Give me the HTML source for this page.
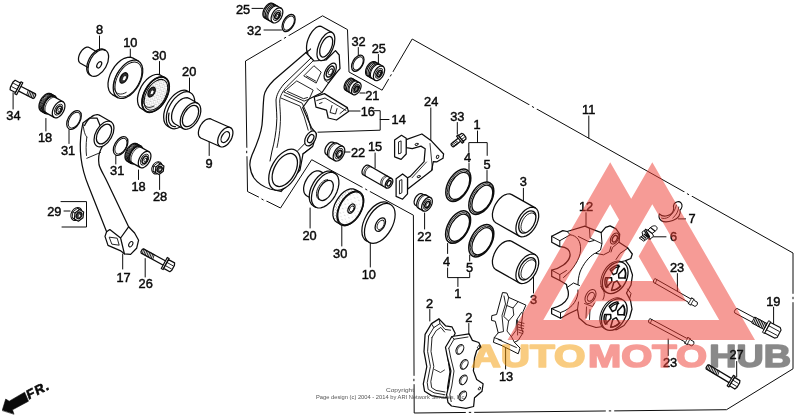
<!DOCTYPE html>
<html><head><meta charset="utf-8"><title>Front brake caliper</title>
<style>
html,body{margin:0;padding:0;background:#fff;}
body{width:800px;height:419px;overflow:hidden;font-family:"Liberation Sans",sans-serif;}
svg{display:block;}
svg text{font-family:"Liberation Sans",sans-serif;}
</style></head><body>
<svg width="800" height="419" viewBox="0 0 800 419">
<defs><pattern id="st" width="3" height="3" patternUnits="userSpaceOnUse"><rect width="3" height="3" fill="#fff"/><rect x="0.3" y="0.5" width="0.8" height="0.8" fill="#555"/><rect x="1.8" y="2" width="0.7" height="0.7" fill="#777"/></pattern><pattern id="st2" width="5" height="5" patternUnits="userSpaceOnUse"><rect width="5" height="5" fill="#fff"/><rect x="1" y="1.5" width="0.8" height="0.8" fill="#999"/><rect x="3.4" y="3.8" width="0.7" height="0.7" fill="#aaa"/></pattern></defs>
<rect width="800" height="419" fill="#fff"/>
<g style="filter:grayscale(1) blur(0.35px)" fill="none" stroke="#0c0c0c" stroke-width="1.25" stroke-linecap="round" stroke-linejoin="round">
<path d="M99.5 36L99.5 49" stroke-width="1.0"/>
<path d="M130.3 49L130.3 58" stroke-width="1.0"/>
<path d="M159.5 61.5L159.5 76.5" stroke-width="1.0"/>
<path d="M189.5 78L189.5 93" stroke-width="1.0"/>
<path d="M13.1 92.7L13.1 109" stroke-width="1.0"/>
<path d="M45.9 118.5L45.9 131" stroke-width="1.0"/>
<path d="M69 130L69 143.5" stroke-width="1.0"/>
<path d="M115.8 156L115.8 164" stroke-width="1.0"/>
<path d="M138.5 170L138.5 179.5" stroke-width="1.0"/>
<path d="M159.6 175L159.6 189.5" stroke-width="1.0"/>
<path d="M209.2 140L209.2 155.5" stroke-width="1.0"/>
<path d="M64 211L70 211" stroke-width="1.0"/>
<path d="M122.7 254L122.7 269" stroke-width="1.0"/>
<path d="M145.2 258.6L145.2 277" stroke-width="1.0"/>
<path d="M252 8.4L263 8.4" stroke-width="1.0"/>
<path d="M264 30L281.5 30" stroke-width="1.0"/>
<path d="M358.3 47.5L358.3 55" stroke-width="1.0"/>
<path d="M378.4 54.5L378.4 63" stroke-width="1.0"/>
<path d="M360 93L365 93" stroke-width="1.0"/>
<path d="M346 111L360 111" stroke-width="1.0"/>
<path d="M430.8 108L430.8 141" stroke-width="1.0"/>
<path d="M457.3 122.5L457.3 134" stroke-width="1.0"/>
<path d="M477.5 131L477.5 142.6" stroke-width="1.0"/>
<path d="M469 163.5L469 170.5" stroke-width="1.0"/>
<path d="M487 170.5L487 182" stroke-width="1.0"/>
<path d="M343 152L350 152" stroke-width="1.0"/>
<path d="M375.1 153L375.1 168" stroke-width="1.0"/>
<path d="M523.4 188.3L523.4 205" stroke-width="1.0"/>
<path d="M310.1 208L310.1 228" stroke-width="1.0"/>
<path d="M341.8 226L341.8 246" stroke-width="1.0"/>
<path d="M370.3 243L370.3 267" stroke-width="1.0"/>
<path d="M424.6 213L424.6 229" stroke-width="1.0"/>
<path d="M447.6 243.5L447.6 253.5" stroke-width="1.0"/>
<path d="M469.7 255L469.7 261" stroke-width="1.0"/>
<path d="M429.8 309.5L429.8 321" stroke-width="1.0"/>
<path d="M468.8 323.5L468.8 334.5" stroke-width="1.0"/>
<path d="M533.5 275.5L533.5 293" stroke-width="1.0"/>
<path d="M505.6 347.5L505.6 369" stroke-width="1.0"/>
<path d="M586 212.7L586 225.5" stroke-width="1.0"/>
<path d="M588.8 116L588.8 138.1" stroke-width="1.0"/>
<path d="M678.4 218.9L685.6 218.9" stroke-width="1.0"/>
<path d="M651 236.8L666 236.8" stroke-width="1.0"/>
<path d="M677.4 273.6L677.4 293" stroke-width="1.0"/>
<path d="M668.2 339L668.2 355.5" stroke-width="1.0"/>
<path d="M773.6 307.2L773.6 324.5" stroke-width="1.0"/>
<path d="M736.7 361.5L736.7 377" stroke-width="1.0"/>
<path d="M374.5 110.7H380.2V130.2L318 132.2 M380.2 119.5H389" stroke-width="1.0"/>
<path d="M468.8 152.2V142.6H487.2V155.4" stroke-width="1.0"/>
<path d="M447.6 268V277.6H469.7V272.7 M457.9 277.6V286.5" stroke-width="1.0"/>
<path d="M61 201.6H86.5V227H62" stroke-width="1.0"/>
<path d="M322.2 16L245.5 61L247.5 191.5L280.5 208L311.7 159.7L413.4 215.2L414.2 413L726.5 409.7L793 368.8V253L412.2 39L382.1 90.2L349 72L347.5 30Z" stroke-width="1.0"/>
<path d="M281.4 39.9L288.6 35.7" stroke-width="2.6" stroke="#fff" stroke-linecap="butt"/>
<path d="M284.3 38.2L285.7 37.4" stroke-width="1.0"/>
<path d="M246.6 147.8L246.8 156.2" stroke-width="2.6" stroke="#fff" stroke-linecap="butt"/>
<path d="M246.7 151.2L246.7 152.8" stroke-width="1.0"/>
<path d="M388.7 79L392.9 71.8" stroke-width="2.6" stroke="#fff" stroke-linecap="butt"/>
<path d="M390.4 76.1L391.2 74.7" stroke-width="1.0"/>
<path d="M529.3 104.9L536.7 109.1" stroke-width="2.6" stroke="#fff" stroke-linecap="butt"/>
<path d="M532.3 106.6L533.7 107.4" stroke-width="1.0"/>
<path d="M684.3 192.1L691.7 196.3" stroke-width="2.6" stroke="#fff" stroke-linecap="butt"/>
<path d="M687.3 193.8L688.7 194.6" stroke-width="1.0"/>
<path d="M793 293.8L793 302.2" stroke-width="2.6" stroke="#fff" stroke-linecap="butt"/>
<path d="M793 297.2L793 298.8" stroke-width="1.0"/>
<path d="M413.9 375.8L413.9 384.2" stroke-width="2.6" stroke="#fff" stroke-linecap="butt"/>
<path d="M413.9 379.2L413.9 380.8" stroke-width="1.0"/>
<path d="M605.8 410.9L614.2 410.9" stroke-width="2.6" stroke="#fff" stroke-linecap="butt"/>
<path d="M609.2 410.9L610.8 410.9" stroke-width="1.0"/>
<path d="M362.5 187.5L369.9 191.5" stroke-width="2.6" stroke="#fff" stroke-linecap="butt"/>
<path d="M365.5 189.1L366.9 189.9" stroke-width="1.0"/>
<path d="M465.8 412.4L474.2 412.4" stroke-width="2.6" stroke="#fff" stroke-linecap="butt"/>
<path d="M469.2 412.4L470.8 412.4" stroke-width="1.0"/>
<path d="M258.7 197.6L266.3 201.4" stroke-width="2.6" stroke="#fff" stroke-linecap="butt"/>
<path d="M261.8 199.1L263.2 199.9" stroke-width="1.0"/>
<path d="M80.4 63.2 L79.5 62.4 L78.8 61.3 L78.5 59.9 L78.5 58.2 L78.8 56.5 L79.4 54.6 L80.3 52.8 L81.4 51.1 L82.6 49.7 L84 48.5 L85.4 47.6 L86.8 47.2 L88.1 47.2 L89.2 47.5 L101 54.2 L101.9 55 L102.5 56.1 L102.9 57.5 L102.9 59.1 L102.6 60.9 L102 62.8 L101.1 64.6 L100 66.3 L98.7 67.7 L97.3 68.9 L95.9 69.7 L94.5 70.2 L93.2 70.2 L92.1 69.8Z" fill="#fff"/>
<ellipse cx="98.3" cy="63" rx="14.6" ry="8.5" transform="rotate(-60.5 98.3 63)" fill="#fff"/>
<path d="M91.1 75.5 L89.4 74.7 L88.1 73.4 L87.2 71.5 L86.7 69.3 L86.8 66.6 L87.3 63.8 L88.3 61 L89.6 58.1 L91.3 55.5 L93.3 53.2 L95.5 51.3 L97.7 49.9 L99.9 49.1 L101.9 48.9 L103.7 49.4 L105.3 50.4"/>
<ellipse cx="99.2" cy="64.8" rx="3.5" ry="2" transform="rotate(-60.5 99.2 64.8)" stroke-width="1.2"/>
<path d="M112.4 94.6 L110.3 92.8 L108.9 90.2 L108.1 86.9 L108 83.1 L108.7 78.9 L110.1 74.6 L112.2 70.3 L114.7 66.4 L117.7 63 L120.9 60.3 L124.3 58.3 L127.5 57.3 L130.5 57.2 L133.1 58.1 L138.3 61 L140.4 62.8 L141.9 65.4 L142.7 68.7 L142.7 72.6 L142 76.8 L140.6 81.1 L138.6 85.3 L136 89.2 L133.1 92.6 L129.8 95.4 L126.5 97.3 L123.3 98.4 L120.3 98.5 L117.7 97.6Z" fill="#fff"/>
<path d="M117.7 97.6 L115.8 96.1 L114.4 93.9 L113.5 91.2 L113.2 88 L113.4 84.5 L114.2 80.8 L115.6 77 L117.4 73.3 L119.6 69.9 L122.2 66.8 L124.9 64.2 L127.8 62.1 L130.7 60.8 L133.5 60.1 L136.1 60.2 L138.3 61"/>
<ellipse cx="128.4" cy="79.5" rx="19" ry="11" transform="rotate(-60.5 128.4 79.5)" stroke-width="0.9"/>
<path d="M126.2 92.4 L124.3 93.3 L122.4 93.9 L120.6 94.1 L119 93.9 L117.5 93.3 L116.3 92.3 L115.3 91 L114.5 89.4 L114 87.5 L113.9 85.4 L114 83.1 L114.4 80.7 L115.1 78.3 L116.1 75.8 L117.3 73.4 L118.7 71.1" stroke-width="0.9"/>
<ellipse cx="123.8" cy="77.9" rx="5.6" ry="3.2" transform="rotate(-60.5 123.8 77.9)" fill="#333" stroke-width="1.4"/>
<ellipse cx="124.5" cy="78.2" rx="3" ry="1.7" transform="rotate(-60.5 124.5 78.2)" fill="#fff" stroke-width="0.7"/>
<path d="M141.6 108.8 L139.6 107.2 L138.3 104.8 L137.6 101.7 L137.5 98.2 L138.2 94.4 L139.5 90.4 L141.3 86.5 L143.7 82.9 L146.4 79.8 L149.4 77.3 L152.4 75.5 L155.4 74.5 L158.2 74.4 L160.6 75.2 L165.1 77.8 L167 79.4 L168.4 81.9 L169.1 84.9 L169.1 88.4 L168.5 92.3 L167.2 96.2 L165.3 100.1 L163 103.7 L160.3 106.9 L157.3 109.4 L154.2 111.2 L151.3 112.1 L148.5 112.2 L146.1 111.4Z" fill="#fff"/>
<path d="M146.1 111.4 L144.4 110 L143.1 108 L142.3 105.5 L142 102.6 L142.2 99.3 L143 95.9 L144.2 92.5 L145.9 89.1 L147.9 85.9 L150.2 83.1 L152.8 80.7 L155.4 78.8 L158.1 77.6 L160.7 77 L163 77 L165.1 77.8"/>
<ellipse cx="155.6" cy="94.6" rx="19.3" ry="11.2" transform="rotate(-60.5 155.6 94.6)" stroke-width="1.7"/>
<ellipse cx="155.9" cy="94.8" rx="16.8" ry="9.7" transform="rotate(-60.5 155.9 94.8)" fill="url(#st)" stroke-width="1.0"/>
<path d="M153.9 106 L152.2 106.8 L150.5 107.3 L148.8 107.4 L147.4 107.2 L146.1 106.5 L145 105.5 L144.1 104.2 L143.5 102.6 L143.3 100.7 L143.3 98.7 L143.6 96.5 L144.1 94.2 L145 91.9 L146.1 89.7 L147.4 87.5 L148.9 85.6" stroke-width="0.9"/>
<ellipse cx="151.6" cy="92" rx="5.2" ry="3" transform="rotate(-60.5 151.6 92)" fill="#333" stroke-width="1.4"/>
<ellipse cx="152.2" cy="92.3" rx="2.7" ry="1.6" transform="rotate(-60.5 152.2 92.3)" fill="#fff" stroke-width="0.7"/>
<ellipse cx="177.9" cy="108.8" rx="20.2" ry="11.7" transform="rotate(-60.5 177.9 108.8)" fill="#fff"/>
<ellipse cx="180.5" cy="110.3" rx="20.2" ry="11.7" transform="rotate(-60.5 180.5 110.3)" fill="#fff"/>
<path d="M174.6 123.7 L173.2 122.5 L172.1 120.7 L171.6 118.4 L171.6 115.7 L172 112.8 L173 109.8 L174.4 106.9 L176.2 104.1 L178.3 101.8 L180.5 99.9 L182.8 98.5 L185.1 97.8 L187.2 97.7 L189 98.3 L197.7 103.3 L199.2 104.5 L200.2 106.3 L200.7 108.6 L200.8 111.3 L200.3 114.2 L199.3 117.2 L197.9 120.1 L196.1 122.9 L194 125.2 L191.8 127.1 L189.5 128.5 L187.2 129.2 L185.1 129.3 L183.3 128.7Z" fill="#fff"/>
<path d="M183.3 128.7 L182 127.6 L181 126.1 L180.4 124.2 L180.2 122 L180.4 119.6 L180.9 117 L181.9 114.4 L183.1 111.8 L184.7 109.4 L186.5 107.2 L188.4 105.4 L190.4 104 L192.4 103.1 L194.3 102.6 L196.1 102.7 L197.7 103.3"/>
<ellipse cx="190.5" cy="116" rx="11.6" ry="6.7" transform="rotate(-60.5 190.5 116)"/>
<path d="M175.4 126.7 L174.4 126.7 L173.5 126.5 L172.7 126.1 L171.9 125.7 L171.2 125.2 L170.5 124.5 L170 123.7 L169.5 122.8 L169.1 121.9 L168.8 120.8 L168.6 119.6 L168.5 118.4 L168.5 117.2 L168.6 115.8 L168.8 114.5 L169 113.1"/>
<path d="M200.7 138 L199.6 137.1 L198.8 135.7 L198.4 134 L198.4 132 L198.8 129.9 L199.5 127.7 L200.5 125.5 L201.9 123.5 L203.4 121.7 L205.1 120.3 L206.8 119.3 L208.4 118.8 L210 118.7 L211.3 119.2 L230.6 127.7 L231.7 128.6 L232.5 130 L232.9 131.7 L232.9 133.7 L232.5 135.8 L231.8 138 L230.8 140.2 L229.4 142.2 L227.9 144 L226.2 145.4 L224.5 146.4 L222.9 146.9 L221.3 147 L220 146.5Z" fill="#fff"/>
<path d="M220 146.5 L219 145.7 L218.3 144.6 L217.8 143.2 L217.7 141.6 L217.8 139.8 L218.2 137.8 L218.9 135.9 L219.8 134 L221 132.2 L222.3 130.7 L223.7 129.3 L225.2 128.3 L226.7 127.6 L228.1 127.2 L229.5 127.3 L230.6 127.7"/>
<ellipse cx="225.3" cy="137.1" rx="6" ry="3.5" transform="rotate(-60.5 225.3 137.1)"/>
<path d="M17.8 90.6 L33.1 98.5 L34.3 98 L35.7 95.2 L35.5 93.9 L20.2 86" fill="#fff"/>
<path d="M32.7 98.4 L34.3 93.3" stroke-width="0.9"/>
<path d="M31.2 97.6 L32.8 92.5" stroke-width="0.9"/>
<path d="M29.7 96.8 L31.3 91.8" stroke-width="0.9"/>
<path d="M28.2 96 L29.8 91" stroke-width="0.9"/>
<path d="M26.7 95.2 L28.3 90.2" stroke-width="0.9"/>
<path d="M16.6 94.7 L14.8 93.7 L21 81.8 L22.8 82.7Z" fill="#fff"/>
<path d="M15.4 92.5 L10.1 89.8 L10.4 87.2 L13.1 81.9 L15.1 80.2 L20.4 83Z" fill="#fff"/>
<path d="M17.1 89.4 L11.7 86.7" stroke-width="0.9"/>
<path d="M18.8 86.1 L13.5 83.3" stroke-width="0.9"/>
<path d="M41.1 111.2 L40.1 110.3 L39.4 109.1 L39 107.5 L39 105.7 L39.3 103.7 L40 101.6 L40.9 99.6 L42.2 97.7 L43.6 96.1 L45.1 94.8 L46.7 93.9 L48.2 93.4 L49.7 93.3 L50.9 93.8 L54.9 96 L55.9 96.9 L56.6 98.1 L57 99.7 L57 101.5 L56.7 103.5 L56 105.6 L55 107.6 L53.8 109.4 L52.4 111.1 L50.9 112.4 L49.3 113.3 L47.7 113.8 L46.3 113.8 L45.1 113.4Z" fill="#fff"/>
<path d="M45.1 113.4 L44.2 112.7 L43.5 111.7 L43.1 110.4 L42.9 108.9 L43.1 107.2 L43.4 105.4 L44.1 103.6 L44.9 101.9 L46 100.2 L47.2 98.8 L48.5 97.5 L49.9 96.6 L51.3 95.9 L52.6 95.6 L53.8 95.6 L54.9 96"/>
<path d="M41.8 111.6 L40.9 110.9 L40.3 109.9 L39.9 108.6 L39.7 107 L39.8 105.4 L40.2 103.6 L40.9 101.8 L41.7 100 L42.8 98.4 L44 96.9 L45.3 95.7 L46.7 94.7 L48.1 94.1 L49.4 93.8 L50.6 93.8 L51.7 94.2" stroke-width="1.0"/>
<path d="M42.7 112.1 L41.8 111.4 L41.2 110.3 L40.7 109 L40.6 107.5 L40.7 105.9 L41.1 104.1 L41.7 102.3 L42.6 100.5 L43.6 98.9 L44.9 97.4 L46.2 96.2 L47.5 95.2 L48.9 94.6 L50.3 94.3 L51.5 94.3 L52.6 94.7" stroke-width="1.0"/>
<path d="M43.6 112.6 L42.7 111.9 L42 110.8 L41.6 109.5 L41.5 108 L41.6 106.3 L42 104.6 L42.6 102.8 L43.5 101 L44.5 99.4 L45.7 97.9 L47 96.7 L48.4 95.7 L49.8 95.1 L51.1 94.8 L52.3 94.8 L53.4 95.2" stroke-width="1.0"/>
<path d="M44.4 113.1 L43.6 112.4 L42.9 111.3 L42.5 110 L42.3 108.5 L42.4 106.8 L42.8 105.1 L43.5 103.3 L44.3 101.5 L45.4 99.9 L46.6 98.4 L47.9 97.2 L49.3 96.2 L50.7 95.6 L52 95.2 L53.2 95.3 L54.3 95.7" stroke-width="1.0"/>
<path d="M45.6 112.6 L44.7 111.8 L44 110.7 L43.7 109.2 L43.7 107.6 L44 105.8 L44.6 104 L45.4 102.2 L46.5 100.5 L47.8 99 L49.2 97.8 L50.6 97 L52 96.6 L53.3 96.5 L54.4 96.9 L63 101.8 L63.9 102.5 L64.6 103.7 L64.9 105.1 L64.9 106.7 L64.6 108.5 L64 110.4 L63.1 112.2 L62 113.8 L60.8 115.3 L59.4 116.5 L58 117.3 L56.6 117.8 L55.3 117.8 L54.2 117.4Z" fill="#fff"/>
<path d="M54.2 117.4 L53.4 116.8 L52.8 115.9 L52.4 114.7 L52.3 113.3 L52.4 111.8 L52.7 110.2 L53.3 108.6 L54.1 107 L55 105.6 L56.1 104.2 L57.3 103.1 L58.5 102.2 L59.8 101.7 L61 101.4 L62.1 101.4 L63 101.8"/>
<path d="M46.9 113.3 L46.1 112.7 L45.5 111.8 L45.2 110.6 L45 109.2 L45.1 107.7 L45.5 106.1 L46.1 104.5 L46.8 102.9 L47.8 101.5 L48.9 100.1 L50.1 99 L51.3 98.2 L52.5 97.6 L53.7 97.3 L54.8 97.3 L55.8 97.7" stroke-width="0.8"/>
<ellipse cx="58.6" cy="109.6" rx="5.9" ry="3.4" transform="rotate(-60.5 58.6 109.6)" stroke-width="0.9"/>
<ellipse cx="59" cy="109.8" rx="4" ry="2.3" transform="rotate(-60.5 59 109.8)" fill="#fff" stroke-width="1.5"/>
<ellipse cx="59.3" cy="109.9" rx="2" ry="1.1" transform="rotate(-60.5 59.3 109.9)" stroke-width="0.8"/>
<path d="M127.1 161.2 L126.1 160.3 L125.4 159.1 L125 157.5 L125 155.7 L125.3 153.7 L126 151.6 L126.9 149.6 L128.2 147.7 L129.6 146.1 L131.1 144.8 L132.7 143.9 L134.2 143.4 L135.7 143.3 L136.9 143.8 L140.9 146 L141.9 146.9 L142.6 148.1 L143 149.7 L143 151.5 L142.7 153.5 L142 155.6 L141 157.6 L139.8 159.4 L138.4 161.1 L136.9 162.4 L135.3 163.3 L133.7 163.8 L132.3 163.8 L131.1 163.4Z" fill="#fff"/>
<path d="M131.1 163.4 L130.2 162.7 L129.5 161.7 L129.1 160.4 L128.9 158.9 L129.1 157.2 L129.4 155.4 L130.1 153.6 L130.9 151.9 L132 150.2 L133.2 148.8 L134.5 147.5 L135.9 146.6 L137.3 145.9 L138.6 145.6 L139.8 145.6 L140.9 146"/>
<path d="M127.8 161.6 L126.9 160.9 L126.3 159.9 L125.9 158.6 L125.7 157 L125.8 155.4 L126.2 153.6 L126.9 151.8 L127.7 150 L128.8 148.4 L130 146.9 L131.3 145.7 L132.7 144.7 L134.1 144.1 L135.4 143.8 L136.6 143.8 L137.7 144.2" stroke-width="1.0"/>
<path d="M128.7 162.1 L127.8 161.4 L127.2 160.3 L126.7 159 L126.6 157.5 L126.7 155.9 L127.1 154.1 L127.7 152.3 L128.6 150.5 L129.6 148.9 L130.9 147.4 L132.2 146.2 L133.5 145.2 L134.9 144.6 L136.3 144.3 L137.5 144.3 L138.6 144.7" stroke-width="1.0"/>
<path d="M129.6 162.6 L128.7 161.9 L128 160.8 L127.6 159.5 L127.5 158 L127.6 156.3 L128 154.6 L128.6 152.8 L129.5 151 L130.5 149.4 L131.7 147.9 L133 146.7 L134.4 145.7 L135.8 145.1 L137.1 144.8 L138.3 144.8 L139.4 145.2" stroke-width="1.0"/>
<path d="M130.4 163.1 L129.6 162.4 L128.9 161.3 L128.5 160 L128.3 158.5 L128.4 156.8 L128.8 155.1 L129.5 153.3 L130.3 151.5 L131.4 149.9 L132.6 148.4 L133.9 147.2 L135.3 146.2 L136.7 145.6 L138 145.2 L139.2 145.3 L140.3 145.7" stroke-width="1.0"/>
<path d="M131.6 162.6 L130.7 161.8 L130 160.7 L129.7 159.2 L129.7 157.6 L130 155.8 L130.6 154 L131.4 152.2 L132.5 150.5 L133.8 149 L135.2 147.8 L136.6 147 L138 146.6 L139.3 146.5 L140.4 146.9 L149 151.8 L149.9 152.5 L150.6 153.7 L150.9 155.1 L150.9 156.7 L150.6 158.5 L150 160.4 L149.1 162.2 L148 163.8 L146.8 165.3 L145.4 166.5 L144 167.3 L142.6 167.8 L141.3 167.8 L140.2 167.4Z" fill="#fff"/>
<path d="M140.2 167.4 L139.4 166.8 L138.8 165.9 L138.4 164.7 L138.3 163.3 L138.4 161.8 L138.7 160.2 L139.3 158.6 L140.1 157 L141 155.6 L142.1 154.2 L143.3 153.1 L144.5 152.2 L145.8 151.7 L147 151.4 L148.1 151.4 L149 151.8"/>
<path d="M132.9 163.3 L132.1 162.7 L131.5 161.8 L131.2 160.6 L131 159.2 L131.1 157.7 L131.5 156.1 L132.1 154.5 L132.8 152.9 L133.8 151.5 L134.9 150.1 L136.1 149 L137.3 148.2 L138.5 147.6 L139.7 147.3 L140.8 147.3 L141.8 147.7" stroke-width="0.8"/>
<ellipse cx="144.6" cy="159.6" rx="5.9" ry="3.4" transform="rotate(-60.5 144.6 159.6)" stroke-width="0.9"/>
<ellipse cx="145" cy="159.8" rx="4" ry="2.3" transform="rotate(-60.5 145 159.8)" fill="#fff" stroke-width="1.5"/>
<ellipse cx="145.3" cy="159.9" rx="2" ry="1.1" transform="rotate(-60.5 145.3 159.9)" stroke-width="0.8"/>
<ellipse cx="74" cy="120" rx="10.3" ry="6" transform="rotate(-60.5 74 120)" fill="#fff" stroke-width="1.3"/>
<ellipse cx="74.3" cy="120.2" rx="8.6" ry="5" transform="rotate(-60.5 74.3 120.2)" stroke-width="0.9"/>
<ellipse cx="120.6" cy="146" rx="10.3" ry="6" transform="rotate(-60.5 120.6 146)" fill="#fff" stroke-width="1.3"/>
<ellipse cx="120.9" cy="146.2" rx="8.6" ry="5" transform="rotate(-60.5 120.9 146.2)" stroke-width="0.9"/>
<ellipse cx="157" cy="167.8" rx="6.5" ry="4.8" transform="rotate(-60.5 157 167.8)" fill="#fff" stroke-width="1.0"/>
<path d="M161.7 164.7 L161.1 170.1 L156.8 173.4 L153.1 171.3 L153.7 165.9 L158 162.6Z" fill="#fff" stroke-width="0.9"/>
<path d="M163.9 165.9 L163.3 171.3 L159 174.6 L155.3 172.5 L155.9 167.1 L160.2 163.8Z" fill="#fff" stroke-width="1.2"/>
<path d="M153.1 171.3 L155.3 172.5" stroke-width="0.9"/>
<path d="M153.7 165.9 L155.9 167.1" stroke-width="0.9"/>
<path d="M158 162.6 L160.2 163.8" stroke-width="0.9"/>
<ellipse cx="159.6" cy="169.2" rx="3.2" ry="2.4" transform="rotate(-60.5 159.6 169.2)" fill="#444" stroke-width="1.2"/>
<ellipse cx="160.1" cy="169.5" rx="1.6" ry="1.2" transform="rotate(-60.5 160.1 169.5)" fill="#fff" stroke-width="0.6"/>
<ellipse cx="76.4" cy="214" rx="6.9" ry="5.1" transform="rotate(-60.5 76.4 214)" fill="#fff" stroke-width="1.0"/>
<path d="M81.4 210.7 L80.8 216.5 L76.2 220 L72.2 217.7 L72.8 211.9 L77.4 208.4Z" fill="#fff" stroke-width="0.9"/>
<path d="M83.6 211.9 L83 217.7 L78.4 221.2 L74.4 218.9 L75 213.1 L79.6 209.6Z" fill="#fff" stroke-width="1.2"/>
<path d="M72.2 217.7 L74.4 218.9" stroke-width="0.9"/>
<path d="M72.8 211.9 L75 213.1" stroke-width="0.9"/>
<path d="M77.4 208.4 L79.6 209.6" stroke-width="0.9"/>
<ellipse cx="79" cy="215.4" rx="3.5" ry="2.6" transform="rotate(-60.5 79 215.4)" fill="#444" stroke-width="1.2"/>
<ellipse cx="79.5" cy="215.7" rx="1.7" ry="1.2" transform="rotate(-60.5 79.5 215.7)" fill="#fff" stroke-width="0.6"/>
<path d="M81.5 130.5C80 140 80 150 81 158C82.5 170 86 180 88.5 186L106.6 231.8L105 236.4L108 245.4L120.2 250.6L124.4 253.8L130.6 254.4L136.6 248.3L138.6 240.2L134.6 233L128.6 226.8L107.5 182.5C104 175 100 169 99 164.5C98 158.5 99 153 101 149L106 140L97 118L89.6 118L82.9 123Z" fill="#fff"/>
<path d="M86.8 137C85.8 145 86 151 86.5 155.5 M86.8 158.3L100.5 152.5 M83 124C84 132 85 135 86.8 137" stroke-width="0.9"/>
<path d="M106.6 231.8L109.8 229.6L120.6 238L128.6 226.8 M120.6 238L124.4 253.8"/>
<path d="M109.6 237.2L117.2 238.2L119.2 245.2L112.2 244.2Z" stroke-width="0.9"/>
<ellipse cx="130.8" cy="244.2" rx="2.9" ry="1.8" transform="rotate(-60.5 130.8 244.2)" stroke-width="1.0"/>
<path d="M84.6 125.5 L85.2 124.2 L86 122.9 L86.8 121.6 L87.7 120.4 L88.7 119.3 L89.7 118.3 L90.7 117.4 L91.8 116.6 L92.9 115.9 L93.9 115.4 L95 115 L96 114.8 L97 114.7 L97.9 114.7 L98.8 115 L99.6 115.3"/>
<path d="M99.6 115.3 L110.9 121.7"/>
<ellipse cx="104" cy="134" rx="14.1" ry="8.2" transform="rotate(-60.5 104 134)" fill="#fff"/>
<ellipse cx="104" cy="134" rx="10.8" ry="6.3" transform="rotate(-60.5 104 134)"/>
<path d="M166.2 261.3 L143.5 248.9 L142.3 249.3 L140.9 251.9 L141.2 253.1 L163.8 265.5" fill="#fff"/>
<path d="M143.8 249.1 L142.3 253.7" stroke-width="0.9"/>
<path d="M145.3 249.9 L143.8 254.5" stroke-width="0.9"/>
<path d="M146.8 250.7 L145.3 255.3" stroke-width="0.9"/>
<path d="M148.3 251.5 L146.8 256.2" stroke-width="0.9"/>
<path d="M149.8 252.3 L148.3 257" stroke-width="0.9"/>
<path d="M151.3 253.1 L149.7 257.8" stroke-width="0.9"/>
<path d="M152.8 254 L151.2 258.6" stroke-width="0.9"/>
<path d="M154.2 254.8 L152.7 259.4" stroke-width="0.9"/>
<path d="M167.3 257.5 L169.1 258.5 L163.1 269.5 L161.3 268.5Z" fill="#fff"/>
<path d="M168.5 259.6 L174.6 262.9 L174.4 265.4 L171.8 270.2 L169.8 271.7 L163.7 268.4Z" fill="#fff"/>
<path d="M166.9 262.4 L173 265.8" stroke-width="0.9"/>
<path d="M165.2 265.5 L171.4 268.9" stroke-width="0.9"/>
<path d="M264.6 17.9 L263.8 17.2 L263.2 16.2 L262.9 14.9 L262.9 13.4 L263.2 11.7 L263.7 10 L264.5 8.4 L265.6 6.8 L266.7 5.5 L268 4.4 L269.3 3.6 L270.6 3.2 L271.8 3.2 L272.8 3.5 L281.1 8.2 L281.9 8.9 L282.5 9.9 L282.8 11.2 L282.8 12.7 L282.5 14.4 L282 16.1 L281.2 17.8 L280.2 19.3 L279 20.7 L277.7 21.8 L276.4 22.5 L275.1 22.9 L273.9 23 L272.9 22.6Z" fill="#fff"/>
<path d="M272.9 22.6 L272.2 22 L271.6 21.2 L271.3 20.1 L271.1 18.8 L271.2 17.4 L271.6 16 L272.1 14.5 L272.8 13 L273.7 11.7 L274.7 10.4 L275.8 9.4 L276.9 8.6 L278.1 8.1 L279.2 7.8 L280.2 7.9 L281.1 8.2"/>
<path d="M265.7 18.5 L265 17.9 L264.4 17.1 L264 16 L263.9 14.7 L264 13.4 L264.3 11.9 L264.9 10.4 L265.6 8.9 L266.5 7.6 L267.5 6.4 L268.6 5.3 L269.7 4.5 L270.8 4 L271.9 3.7 L273 3.8 L273.9 4.1" stroke-width="1.05"/>
<path d="M267.1 19.3 L266.3 18.7 L265.8 17.9 L265.4 16.8 L265.3 15.5 L265.4 14.1 L265.7 12.7 L266.3 11.2 L267 9.7 L267.9 8.4 L268.9 7.1 L270 6.1 L271.1 5.3 L272.2 4.8 L273.3 4.5 L274.4 4.6 L275.3 4.9" stroke-width="1.05"/>
<path d="M268.5 20.1 L267.7 19.5 L267.2 18.7 L266.8 17.6 L266.7 16.3 L266.8 14.9 L267.1 13.5 L267.7 12 L268.4 10.5 L269.2 9.2 L270.3 7.9 L271.3 6.9 L272.5 6.1 L273.6 5.6 L274.7 5.3 L275.8 5.3 L276.6 5.7" stroke-width="1.05"/>
<path d="M269.5 20.7 L268.8 20.1 L268.2 19.2 L267.9 18.2 L267.8 16.9 L267.9 15.5 L268.2 14.1 L268.7 12.6 L269.4 11.1 L270.3 9.7 L271.3 8.5 L272.4 7.5 L273.5 6.7 L274.7 6.2 L275.8 5.9 L276.8 5.9 L277.7 6.3" stroke-width="1.05"/>
<ellipse cx="277" cy="15.4" rx="5.5" ry="3.2" transform="rotate(-60.5 277 15.4)" stroke-width="0.9"/>
<ellipse cx="277.3" cy="15.6" rx="3.5" ry="2" transform="rotate(-60.5 277.3 15.6)" fill="#fff" stroke-width="1.6"/>
<ellipse cx="277.5" cy="15.7" rx="1.7" ry="1" transform="rotate(-60.5 277.5 15.7)" stroke-width="0.8"/>
<ellipse cx="288.6" cy="23" rx="9.3" ry="5.4" transform="rotate(-60.5 288.6 23)" fill="#fff" stroke-width="1.3"/>
<ellipse cx="288.9" cy="23.1" rx="7.7" ry="4.5" transform="rotate(-60.5 288.9 23.1)" stroke-width="0.9"/>
<ellipse cx="357.8" cy="63.2" rx="8.8" ry="5.1" transform="rotate(-60.5 357.8 63.2)" fill="#fff" stroke-width="1.3"/>
<ellipse cx="358.1" cy="63.4" rx="7.2" ry="4.2" transform="rotate(-60.5 358.1 63.4)" stroke-width="0.9"/>
<path d="M367.2 75.8 L366.4 75.1 L365.9 74.2 L365.6 72.9 L365.6 71.4 L365.8 69.8 L366.4 68.2 L367.1 66.6 L368.1 65.1 L369.2 63.8 L370.5 62.7 L371.7 62 L373 61.6 L374.1 61.6 L375.1 61.9 L382.9 66.3 L383.7 67 L384.3 68 L384.6 69.3 L384.6 70.7 L384.3 72.3 L383.8 74 L383 75.6 L382.1 77.1 L380.9 78.4 L379.7 79.4 L378.4 80.2 L377.2 80.6 L376.1 80.6 L375.1 80.3Z" fill="#fff"/>
<path d="M375.1 80.3 L374.3 79.7 L373.8 78.9 L373.5 77.8 L373.4 76.6 L373.5 75.3 L373.8 73.9 L374.3 72.4 L375 71 L375.8 69.7 L376.8 68.5 L377.8 67.5 L378.9 66.8 L380 66.2 L381.1 66 L382.1 66 L382.9 66.3"/>
<path d="M368.3 76.4 L367.6 75.8 L367 75 L366.7 74 L366.6 72.8 L366.7 71.4 L367 70 L367.5 68.6 L368.2 67.2 L369 65.9 L370 64.7 L371 63.7 L372.1 62.9 L373.2 62.4 L374.3 62.2 L375.3 62.2 L376.2 62.5" stroke-width="1.05"/>
<path d="M369.7 77.2 L369 76.6 L368.4 75.8 L368.1 74.8 L368 73.6 L368.1 72.2 L368.4 70.8 L368.9 69.4 L369.6 68 L370.4 66.6 L371.4 65.5 L372.4 64.5 L373.5 63.7 L374.6 63.2 L375.7 62.9 L376.7 63 L377.5 63.3" stroke-width="1.05"/>
<path d="M371.1 78 L370.3 77.4 L369.8 76.6 L369.5 75.6 L369.4 74.3 L369.4 73 L369.8 71.6 L370.3 70.2 L371 68.8 L371.8 67.4 L372.8 66.3 L373.8 65.3 L374.9 64.5 L376 64 L377.1 63.7 L378.1 63.8 L378.9 64.1" stroke-width="1.05"/>
<path d="M372.1 78.6 L371.4 78 L370.9 77.2 L370.5 76.1 L370.4 74.9 L370.5 73.6 L370.8 72.2 L371.3 70.7 L372 69.3 L372.8 68 L373.8 66.9 L374.9 65.9 L376 65.1 L377.1 64.6 L378.1 64.3 L379.1 64.4 L380 64.7" stroke-width="1.05"/>
<ellipse cx="379" cy="73.3" rx="5.3" ry="3.1" transform="rotate(-60.5 379 73.3)" stroke-width="0.9"/>
<ellipse cx="379.3" cy="73.5" rx="3.4" ry="1.9" transform="rotate(-60.5 379.3 73.5)" fill="#fff" stroke-width="1.6"/>
<ellipse cx="379.5" cy="73.6" rx="1.6" ry="0.9" transform="rotate(-60.5 379.5 73.6)" stroke-width="0.8"/>
<path d="M345.6 90.3 L344.9 89.8 L344.4 88.9 L344.1 87.8 L344.1 86.6 L344.4 85.2 L344.8 83.8 L345.5 82.5 L346.3 81.2 L347.3 80.1 L348.3 79.2 L349.4 78.6 L350.4 78.2 L351.4 78.2 L352.3 78.5 L359.6 82.7 L360.3 83.3 L360.8 84.1 L361.1 85.2 L361.1 86.4 L360.8 87.8 L360.4 89.2 L359.7 90.5 L358.9 91.8 L357.9 92.9 L356.9 93.8 L355.8 94.4 L354.8 94.8 L353.8 94.8 L353 94.5Z" fill="#fff"/>
<path d="M353 94.5 L352.3 94 L351.9 93.3 L351.6 92.4 L351.5 91.4 L351.6 90.3 L351.8 89.1 L352.3 87.8 L352.9 86.7 L353.6 85.5 L354.4 84.5 L355.3 83.7 L356.2 83 L357.2 82.6 L358.1 82.4 L358.9 82.4 L359.6 82.7"/>
<path d="M346.6 90.9 L346 90.4 L345.5 89.7 L345.3 88.8 L345.2 87.8 L345.2 86.7 L345.5 85.5 L345.9 84.3 L346.5 83.1 L347.2 81.9 L348.1 80.9 L349 80.1 L349.9 79.4 L350.8 79 L351.7 78.8 L352.6 78.8 L353.3 79.1" stroke-width="1.05"/>
<path d="M348 91.7 L347.4 91.2 L346.9 90.5 L346.6 89.6 L346.5 88.6 L346.6 87.5 L346.9 86.3 L347.3 85 L347.9 83.9 L348.6 82.7 L349.4 81.7 L350.3 80.9 L351.3 80.2 L352.2 79.8 L353.1 79.6 L354 79.6 L354.7 79.9" stroke-width="1.05"/>
<path d="M349.4 92.5 L348.8 92 L348.3 91.3 L348 90.4 L347.9 89.4 L348 88.3 L348.3 87.1 L348.7 85.8 L349.3 84.6 L350 83.5 L350.8 82.5 L351.7 81.7 L352.7 81 L353.6 80.6 L354.5 80.4 L355.3 80.4 L356.1 80.7" stroke-width="1.05"/>
<path d="M350.4 93.1 L349.8 92.6 L349.4 91.9 L349.1 91 L349 90 L349.1 88.8 L349.3 87.6 L349.8 86.4 L350.3 85.2 L351.1 84.1 L351.9 83.1 L352.8 82.3 L353.7 81.6 L354.7 81.2 L355.6 81 L356.4 81 L357.1 81.3" stroke-width="1.05"/>
<ellipse cx="356.3" cy="88.6" rx="4.5" ry="2.6" transform="rotate(-60.5 356.3 88.6)" stroke-width="0.9"/>
<ellipse cx="356.6" cy="88.8" rx="2.9" ry="1.7" transform="rotate(-60.5 356.6 88.8)" fill="#fff" stroke-width="1.6"/>
<ellipse cx="356.8" cy="88.9" rx="1.4" ry="0.8" transform="rotate(-60.5 356.8 88.9)" stroke-width="0.8"/>
<path d="M326.4 154.6 L325.7 154 L325.2 153.1 L324.9 152 L324.9 150.7 L325.1 149.3 L325.6 147.8 L326.3 146.4 L327.2 145.1 L328.2 144 L329.2 143 L330.4 142.4 L331.4 142 L332.5 142 L333.3 142.3 L337.3 144.5 L338 145.1 L338.5 146 L338.7 147.1 L338.7 148.4 L338.5 149.8 L338 151.2 L337.3 152.7 L336.5 154 L335.5 155.1 L334.4 156 L333.3 156.7 L332.2 157 L331.2 157.1 L330.3 156.8Z" fill="#fff"/>
<path d="M330.3 156.8 L329.7 156.3 L329.2 155.5 L328.9 154.6 L328.8 153.6 L328.9 152.4 L329.2 151.1 L329.6 149.9 L330.2 148.6 L331 147.5 L331.8 146.4 L332.7 145.6 L333.7 144.9 L334.7 144.4 L335.6 144.2 L336.5 144.2 L337.3 144.5"/>
<path d="M329.1 157.4 L328.3 156.7 L327.7 155.7 L327.4 154.4 L327.4 152.9 L327.7 151.3 L328.2 149.6 L329 148 L330 146.4 L331.2 145.1 L332.4 144 L333.7 143.3 L335 142.9 L336.2 142.8 L337.2 143.2 L343 146.5 L343.9 147.2 L344.4 148.2 L344.7 149.5 L344.8 151 L344.5 152.6 L343.9 154.3 L343.1 155.9 L342.1 157.5 L341 158.8 L339.7 159.9 L338.4 160.6 L337.2 161 L336 161.1 L335 160.7Z" fill="#fff"/>
<path d="M335 160.7 L334.2 160.1 L333.7 159.3 L333.3 158.2 L333.2 157 L333.3 155.6 L333.6 154.2 L334.2 152.7 L334.9 151.3 L335.7 149.9 L336.7 148.7 L337.8 147.7 L338.9 146.9 L340.1 146.4 L341.1 146.1 L342.2 146.1 L343 146.5"/>
<path d="M330.5 158.2 L329.8 157.6 L329.2 156.8 L328.9 155.7 L328.8 154.5 L328.9 153.1 L329.2 151.7 L329.7 150.2 L330.4 148.7 L331.3 147.4 L332.3 146.2 L333.4 145.2 L334.5 144.4 L335.6 143.9 L336.7 143.6 L337.7 143.6 L338.6 144" stroke-width="0.9"/>
<ellipse cx="339" cy="153.6" rx="5.7" ry="3.3" transform="rotate(-60.5 339 153.6)" stroke-width="0.9"/>
<ellipse cx="339.3" cy="153.8" rx="3.8" ry="2.2" transform="rotate(-60.5 339.3 153.8)" fill="#fff" stroke-width="1.5"/>
<path d="M339.5 156.2 L339.2 156.3 L338.9 156.3 L338.6 156.2 L338.3 156 L338.2 155.7 L338.1 155.3 L338.1 154.9 L338.1 154.4 L338.3 154 L338.5 153.5 L338.8 153 L339.1 152.6 L339.5 152.3 L339.8 152.1 L340.2 151.9 L340.6 151.8" stroke-width="0.8"/>
<path d="M415.5 205.3 L414.9 204.8 L414.4 203.9 L414.2 202.9 L414.1 201.7 L414.4 200.4 L414.8 199.1 L415.4 197.8 L416.2 196.5 L417.2 195.5 L418.2 194.6 L419.2 194 L420.2 193.7 L421.1 193.7 L422 193.9 L425.9 196.1 L426.5 196.7 L427 197.5 L427.2 198.6 L427.2 199.8 L427 201.1 L426.6 202.4 L425.9 203.7 L425.1 204.9 L424.2 206 L423.2 206.8 L422.2 207.4 L421.2 207.8 L420.2 207.8 L419.4 207.5Z" fill="#fff"/>
<path d="M419.4 207.5 L418.8 207.1 L418.4 206.4 L418.1 205.5 L418 204.5 L418.1 203.4 L418.4 202.3 L418.8 201.1 L419.3 200 L420 198.9 L420.8 197.9 L421.7 197.1 L422.6 196.5 L423.5 196.1 L424.4 195.9 L425.2 195.9 L425.9 196.1"/>
<path d="M418.3 208.1 L417.5 207.5 L417 206.5 L416.7 205.3 L416.7 203.9 L417 202.4 L417.5 200.8 L418.2 199.3 L419.1 197.9 L420.2 196.7 L421.4 195.7 L422.6 195 L423.7 194.6 L424.8 194.6 L425.8 194.9 L430.7 197.7 L431.5 198.3 L432 199.3 L432.3 200.5 L432.3 201.9 L432.1 203.4 L431.6 204.9 L430.8 206.5 L429.9 207.9 L428.8 209.1 L427.7 210.1 L426.5 210.8 L425.3 211.2 L424.2 211.2 L423.3 210.9Z" fill="#fff"/>
<path d="M423.3 210.9 L422.6 210.4 L422.1 209.6 L421.8 208.6 L421.6 207.4 L421.7 206.2 L422 204.8 L422.5 203.5 L423.2 202.1 L424 200.9 L424.9 199.8 L425.9 198.8 L426.9 198.1 L428 197.6 L429 197.4 L429.9 197.4 L430.7 197.7"/>
<path d="M419.7 208.9 L419 208.3 L418.5 207.6 L418.2 206.6 L418.1 205.4 L418.2 204.2 L418.5 202.8 L418.9 201.4 L419.6 200.1 L420.4 198.9 L421.3 197.7 L422.3 196.8 L423.4 196.1 L424.4 195.6 L425.4 195.3 L426.4 195.4 L427.2 195.7" stroke-width="0.9"/>
<ellipse cx="427" cy="204.3" rx="5.3" ry="3.1" transform="rotate(-60.5 427 204.3)" stroke-width="0.9"/>
<ellipse cx="427.3" cy="204.5" rx="3.5" ry="2" transform="rotate(-60.5 427.3 204.5)" fill="#fff" stroke-width="1.5"/>
<path d="M427.6 206.8 L427.2 206.9 L426.9 206.9 L426.7 206.8 L426.4 206.6 L426.3 206.3 L426.2 206 L426.2 205.6 L426.3 205.1 L426.4 204.7 L426.6 204.2 L426.9 203.8 L427.2 203.4 L427.5 203.1 L427.8 202.9 L428.2 202.8 L428.5 202.7" stroke-width="0.8"/>
<path d="M306 52.5L274 80C268 86 264.5 92 264 96C263 104 263 115 262 125C261 133 257 144 252 155C250 160 249.5 163 250 166C250.5 172 252 175 254 178C258 183.5 264 187 270 189L281 191.5L300 170L303 154L312.7 146.4L316.5 134L311.4 127.6L302.7 107.5L309 99L322 92.5L328.5 83L336.2 73L340 68.6L339.2 55L335.5 50.6L326 60L314 61Z" fill="#fff"/>
<path d="M311 58L284 84C279 90 276.5 95 276 100C276 108 277.5 116 276.5 125C276 132 274.5 142 272 151L270 161" stroke-width="1.0"/>
<path d="M313 61L287 86.5C282.5 91.5 280 96 279.7 101C279.7 108 281 115 280.2 125C279.8 132 278.5 141 277 147.5" stroke-width="0.9"/>
<path d="M281.1 98.1L300.1 106.1L304.1 116.2L308.2 130.2 M284.1 95.1L302.1 103.1L307.2 114.2L311.2 130.2" stroke-width="0.9"/>
<path d="M305.7 142.6L298 150.5 M312.7 146.4L302.5 154" stroke-width="1.0"/>
<path d="M284.1 92.1L304.1 101.1L309.2 99.1L313.2 90.1L297.1 81.1Z M287.5 91.5L303.5 98.7L307.5 97.5" stroke-width="0.9"/>
<path d="M304.1 76.1L316.2 83.1L321.2 72.1L314.2 66Z M306.5 76L315.6 81" stroke-width="0.9"/>
<path d="M322 92.5L317 88.5 M328.5 83L324.5 80" stroke-width="0.8"/>
<path d="M308 53.3 L307.3 52 L306.7 50.3 L306.5 48.3 L306.6 46 L306.9 43.5 L307.5 41 L308.4 38.4 L309.5 35.9 L310.8 33.6 L312.3 31.4 L313.9 29.6 L315.5 28.1 L317.1 27 L318.6 26.4 L320.1 26.2 L321.4 26.5" fill="#fff"/>
<path d="M321.4 26.5 L331.8 32.4"/>
<path d="M306 52.5C308 51 309.5 50.5 310.5 49"/>
<ellipse cx="325.9" cy="46.4" rx="15.2" ry="7.3" transform="rotate(-67 325.9 46.4)" fill="#fff"/>
<ellipse cx="326.2" cy="46.7" rx="11" ry="5.3" transform="rotate(-67 326.2 46.7)"/>
<ellipse cx="330.2" cy="71.6" rx="9.4" ry="4.7" transform="rotate(-60.5 330.2 71.6)" fill="#fff"/>
<ellipse cx="330.2" cy="71.6" rx="6" ry="3" transform="rotate(-60.5 330.2 71.6)" stroke-width="1.6"/>
<ellipse cx="330.5" cy="71.8" rx="3.4" ry="1.7" transform="rotate(-60.5 330.5 71.8)" stroke-width="0.8"/>
<ellipse cx="310.5" cy="138.4" rx="8.2" ry="4.8" transform="rotate(-60.5 310.5 138.4)" fill="#fff"/>
<ellipse cx="310.7" cy="138.6" rx="4.4" ry="2.6" transform="rotate(-60.5 310.7 138.6)"/>
<ellipse cx="284.5" cy="169.8" rx="22.4" ry="13" transform="rotate(-60.5 284.5 169.8)" fill="#fff"/>
<ellipse cx="284.8" cy="170" rx="18" ry="10.4" transform="rotate(-60.5 284.8 170)"/>
<path d="M314.2 97L324.4 93.6L347.3 107.6L348.5 111.6L336.5 120L328.2 118L326.5 110.2L316 107.2Z" fill="#fff"/>
<path d="M316.8 100.5L325 98L346 110.5 M332 105.5L330 112.5L335.5 114L337 108.6 M319.5 103.5L322 102.6 M340 113.5L347.3 107.6" stroke-width="0.9"/>
<path d="M363.1 174.7 L362.6 174.2 L362.2 173.6 L362 172.7 L362 171.7 L362.2 170.6 L362.6 169.5 L363.1 168.5 L363.7 167.5 L364.5 166.6 L365.3 165.9 L366.2 165.4 L367 165.1 L367.8 165.1 L368.5 165.3 L391.7 178.6 L392.2 179.1 L392.6 179.7 L392.8 180.6 L392.8 181.6 L392.6 182.7 L392.2 183.8 L391.7 184.8 L391.1 185.8 L390.3 186.7 L389.5 187.4 L388.6 187.9 L387.8 188.2 L387 188.2 L386.3 188Z" fill="#fff"/>
<path d="M386.3 188 L385.9 187.6 L385.5 187.1 L385.3 186.4 L385.2 185.5 L385.3 184.6 L385.5 183.7 L385.8 182.7 L386.3 181.8 L386.8 180.9 L387.5 180.1 L388.2 179.4 L389 178.9 L389.7 178.5 L390.4 178.4 L391.1 178.4 L391.7 178.6"/>
<path d="M365.1 175.8 L364.6 175.4 L364.2 174.8 L364 174.1 L363.9 173.3 L364 172.4 L364.2 171.5 L364.5 170.5 L365 169.5 L365.6 168.7 L366.2 167.9 L366.9 167.2 L367.7 166.7 L368.4 166.3 L369.1 166.2 L369.8 166.2 L370.4 166.4" stroke-width="0.9"/>
<path d="M366.3 176.5 L365.8 176.1 L365.4 175.5 L365.2 174.8 L365.1 174 L365.2 173.1 L365.4 172.1 L365.7 171.2 L366.2 170.2 L366.8 169.3 L367.4 168.5 L368.1 167.9 L368.9 167.4 L369.6 167 L370.3 166.8 L371 166.9 L371.6 167.1" stroke-width="0.9"/>
<path d="M381.9 185.3 L381.4 184.9 L381 184.3 L380.8 183.6 L380.7 182.8 L380.8 181.9 L381 181 L381.3 180 L381.8 179 L382.4 178.2 L383 177.4 L383.7 176.7 L384.5 176.2 L385.2 175.8 L385.9 175.7 L386.6 175.7 L387.2 175.9" stroke-width="0.9"/>
<path d="M383.2 186 L382.7 185.6 L382.3 185.1 L382.1 184.4 L382 183.6 L382.1 182.7 L382.3 181.7 L382.6 180.7 L383.1 179.8 L383.7 178.9 L384.3 178.1 L385 177.4 L385.8 176.9 L386.5 176.6 L387.2 176.4 L387.9 176.4 L388.5 176.6" stroke-width="0.9"/>
<ellipse cx="389" cy="183.3" rx="3" ry="1.7" transform="rotate(-60.5 389 183.3)" stroke-width="1.4"/>
<path d="M406.2 139.6L421.9 134L431.6 141.1L443.6 154L443 158.3L437 161.8L433.3 161.6L431.6 170.4L407.5 189.3L407.5 177.7L410.3 176.4L424.1 161.6L425.2 148.7L420.9 146.1L412.3 148.7L406.2 147.6Z" fill="#fff"/>
<path d="M394.6 140L401.5 135.3L406.2 138.3L406.2 154L401.1 159.4L394.6 156.8Z" fill="#fff"/>
<path d="M398.9 141.8L401.1 140.9L401.1 153L398.9 153.8Z" stroke-width="0.9"/>
<path d="M396.1 178.8L402.6 174L407.5 177.7L407.5 193.8L402.6 199.2L396.1 196.4Z" fill="#fff"/>
<path d="M399.8 180.5L401.9 179.6L401.9 192.7L399.8 193.8Z" stroke-width="0.9"/>
<path d="M430 143.5L432.5 170 M426.5 162L412 177.8" stroke-width="0.8"/>
<ellipse cx="416.6" cy="144.4" rx="1.7" ry="1" transform="rotate(-20 416.6 144.4)" stroke-width="0.9"/>
<ellipse cx="418.7" cy="176.6" rx="1.7" ry="1" transform="rotate(-20 418.7 176.6)" stroke-width="0.9"/>
<ellipse cx="437.6" cy="156.8" rx="1.7" ry="1.2" transform="rotate(-60.5 437.6 156.8)" stroke-width="0.9"/>
<path d="M458.8 137.7 L451.2 143.8 L451.1 144.9 L452.5 146.7 L453.6 146.8 L461.2 140.7" fill="#fff"/>
<path d="M451.5 143.6 L454.6 146" stroke-width="0.9"/>
<path d="M452.9 142.5 L456 144.9" stroke-width="0.9"/>
<path d="M454.2 141.4 L457.3 143.8" stroke-width="0.9"/>
<path d="M455.5 140.4 L458.6 142.8" stroke-width="0.9"/>
<path d="M456.6 136.2 L458.1 134.9 L463.8 142 L462.2 143.2Z" fill="#fff"/>
<path d="M458.7 135.6 L461.5 133.4 L463.3 134 L465.8 137.1 L466 139 L463.2 141.3Z" fill="#fff"/>
<path d="M460.1 137.5 L462.9 135.2" stroke-width="0.9"/>
<path d="M461.7 139.4 L464.5 137.2" stroke-width="0.9"/>
<path d="M306.6 195.7 L305.2 194.5 L304.2 192.8 L303.7 190.6 L303.6 188 L304.1 185.2 L305 182.4 L306.4 179.6 L308.1 176.9 L310.1 174.7 L312.2 172.8 L314.4 171.5 L316.6 170.8 L318.6 170.8 L320.3 171.4 L330.4 177 L331.8 178.2 L332.7 180 L333.3 182.2 L333.3 184.7 L332.8 187.5 L331.9 190.4 L330.5 193.2 L328.8 195.8 L326.8 198.1 L324.7 199.9 L322.5 201.2 L320.3 201.9 L318.3 202 L316.6 201.4Z" fill="#fff"/>
<path d="M313.3 205.9 L311.4 204.2 L310 201.8 L309.3 198.7 L309.3 195.1 L309.9 191.3 L311.2 187.3 L313.1 183.4 L315.5 179.7 L318.2 176.5 L321.2 174 L324.3 172.2 L327.3 171.2 L330.1 171.1 L332.5 171.9 L334.8 173.2 L336.8 174.9 L338.1 177.3 L338.8 180.4 L338.9 184 L338.2 187.9 L336.9 191.9 L335 195.8 L332.7 199.4 L329.9 202.6 L326.9 205.1 L323.8 206.9 L320.8 207.9 L318 208 L315.6 207.2Z" fill="#fff"/>
<path d="M315.6 207.2 L313.9 205.8 L312.6 203.7 L311.7 201.2 L311.4 198.3 L311.7 195 L312.4 191.5 L313.7 188 L315.4 184.6 L317.4 181.4 L319.8 178.6 L322.3 176.1 L325 174.3 L327.7 173 L330.3 172.4 L332.7 172.5 L334.8 173.2"/>
<ellipse cx="325.6" cy="190.4" rx="11" ry="6.4" transform="rotate(-60.5 325.6 190.4)"/>
<path d="M318.8 199.3 L317.9 198.6 L317.2 197.6 L316.7 196.4 L316.5 194.9 L316.5 193.3 L316.7 191.6 L317.2 189.9 L317.9 188.1 L318.8 186.4 L319.8 184.8 L321 183.3 L322.3 182 L323.6 181 L325 180.2 L326.4 179.8 L327.6 179.6" stroke-width="0.9"/>
<path d="M336.8 222.3 L334.9 220.7 L333.6 218.4 L332.9 215.4 L332.9 211.9 L333.5 208.2 L334.7 204.3 L336.6 200.6 L338.9 197.1 L341.5 194 L344.4 191.5 L347.4 189.8 L350.3 188.9 L353 188.8 L355.3 189.6 L359.7 192 L361.5 193.6 L362.9 196 L363.6 199 L363.6 202.4 L363 206.1 L361.7 210 L359.9 213.8 L357.6 217.3 L354.9 220.3 L352 222.8 L349.1 224.5 L346.2 225.5 L343.5 225.5 L341.1 224.8Z" fill="url(#st)"/>
<path d="M341.1 224.8 L339.5 223.4 L338.2 221.5 L337.4 219 L337.1 216.2 L337.4 213 L338.1 209.7 L339.3 206.3 L340.9 203 L342.9 199.9 L345.2 197.2 L347.7 194.8 L350.2 193 L352.8 191.8 L355.3 191.2 L357.6 191.3 L359.7 192"/>
<ellipse cx="350.4" cy="208.4" rx="18.8" ry="10.9" transform="rotate(-60.5 350.4 208.4)" fill="#fff"/>
<ellipse cx="350.4" cy="208.4" rx="18" ry="10.4" transform="rotate(-60.5 350.4 208.4)" fill="url(#st2)"/>
<ellipse cx="351.4" cy="208.6" rx="5" ry="2.9" transform="rotate(-60.5 351.4 208.6)" fill="#fff" stroke-width="1.4"/>
<ellipse cx="351.7" cy="208.8" rx="3.2" ry="1.9" transform="rotate(-60.5 351.7 208.8)" stroke-width="0.8"/>
<ellipse cx="377.2" cy="221.9" rx="21.8" ry="12.6" transform="rotate(-60.5 377.2 221.9)" fill="#fff"/>
<ellipse cx="379.8" cy="223.4" rx="21.8" ry="12.6" transform="rotate(-60.5 379.8 223.4)" fill="#fff"/>
<ellipse cx="380.3" cy="224.6" rx="7.4" ry="4.3" transform="rotate(-60.5 380.3 224.6)" fill="#fff" stroke-width="1.3"/>
<ellipse cx="380.7" cy="224.8" rx="5.2" ry="3" transform="rotate(-60.5 380.7 224.8)" stroke-width="0.8"/>
<ellipse cx="458.3" cy="185.3" rx="17.7" ry="10.3" transform="rotate(-60.5 458.3 185.3)" fill="#fff" stroke-width="1.5"/>
<ellipse cx="458.8" cy="185.6" rx="16.4" ry="9.5" transform="rotate(-60.5 458.8 185.6)" stroke-width="0.8"/>
<ellipse cx="459.3" cy="185.9" rx="14.8" ry="8.6" transform="rotate(-60.5 459.3 185.9)" stroke-width="1.3"/>
<ellipse cx="481.3" cy="198.2" rx="17.7" ry="10.3" transform="rotate(-60.5 481.3 198.2)" fill="#fff" stroke-width="1.5"/>
<ellipse cx="481.8" cy="198.5" rx="16.4" ry="9.5" transform="rotate(-60.5 481.8 198.5)" stroke-width="0.8"/>
<ellipse cx="482.3" cy="198.8" rx="14.8" ry="8.6" transform="rotate(-60.5 482.3 198.8)" stroke-width="1.3"/>
<ellipse cx="458.1" cy="227.1" rx="17.7" ry="10.3" transform="rotate(-60.5 458.1 227.1)" fill="#fff" stroke-width="1.5"/>
<ellipse cx="458.6" cy="227.4" rx="16.4" ry="9.5" transform="rotate(-60.5 458.6 227.4)" stroke-width="0.8"/>
<ellipse cx="459.1" cy="227.7" rx="14.8" ry="8.6" transform="rotate(-60.5 459.1 227.7)" stroke-width="1.3"/>
<ellipse cx="481.3" cy="240.7" rx="17.7" ry="10.3" transform="rotate(-60.5 481.3 240.7)" fill="#fff" stroke-width="1.5"/>
<ellipse cx="481.8" cy="241" rx="16.4" ry="9.5" transform="rotate(-60.5 481.8 241)" stroke-width="0.8"/>
<ellipse cx="482.3" cy="241.3" rx="14.8" ry="8.6" transform="rotate(-60.5 482.3 241.3)" stroke-width="1.3"/>
<path d="M495.8 222.8 L494.2 221.4 L493.1 219.4 L492.5 216.8 L492.4 213.9 L493 210.7 L494.1 207.3 L495.6 204.1 L497.6 201.1 L499.9 198.4 L502.4 196.3 L504.9 194.8 L507.4 194 L509.8 193.9 L511.8 194.6 L535.3 207.9 L536.9 209.3 L538 211.3 L538.6 213.9 L538.7 216.8 L538.1 220.1 L537 223.4 L535.5 226.6 L533.5 229.6 L531.2 232.3 L528.7 234.4 L526.2 235.9 L523.7 236.7 L521.3 236.8 L519.3 236.1Z" fill="#fff"/>
<path d="M519.3 236.1 L517.9 234.9 L516.8 233.3 L516.1 231.2 L515.9 228.7 L516.1 226 L516.7 223.1 L517.7 220.2 L519.1 217.4 L520.8 214.7 L522.8 212.3 L524.9 210.3 L527.2 208.8 L529.4 207.7 L531.5 207.2 L533.5 207.3 L535.3 207.9"/>
<ellipse cx="527.3" cy="222" rx="12.2" ry="7.1" transform="rotate(-60.5 527.3 222)" stroke-width="1.3"/>
<path d="M525.2 232.4 L523.7 232.1 L522.5 231.3 L521.6 230.1 L521.1 228.4 L521 226.4 L521.4 224.2 L522.1 221.9 L523.1 219.7 L524.5 217.6 L526.1 215.8 L527.8 214.4 L529.6 213.5 L531.3 213 L532.8 213.1 L534.1 213.7 L535.1 214.9" stroke-width="0.9"/>
<path d="M495.8 269.6 L494.2 268.2 L493.1 266.2 L492.5 263.6 L492.4 260.7 L493 257.5 L494.1 254.1 L495.6 250.9 L497.6 247.9 L499.9 245.2 L502.4 243.1 L504.9 241.6 L507.4 240.8 L509.8 240.7 L511.8 241.4 L535.3 254.7 L536.9 256.1 L538 258.1 L538.6 260.7 L538.7 263.6 L538.1 266.9 L537 270.2 L535.5 273.4 L533.5 276.4 L531.2 279.1 L528.7 281.2 L526.2 282.7 L523.7 283.5 L521.3 283.6 L519.3 282.9Z" fill="#fff"/>
<path d="M519.3 282.9 L517.9 281.7 L516.8 280.1 L516.1 278 L515.9 275.5 L516.1 272.8 L516.7 269.9 L517.7 267 L519.1 264.2 L520.8 261.5 L522.8 259.1 L524.9 257.1 L527.2 255.6 L529.4 254.5 L531.5 254 L533.5 254.1 L535.3 254.7"/>
<ellipse cx="527.3" cy="268.8" rx="12.2" ry="7.1" transform="rotate(-60.5 527.3 268.8)" stroke-width="1.3"/>
<path d="M525.2 279.2 L523.7 278.9 L522.5 278.1 L521.6 276.9 L521.1 275.2 L521 273.2 L521.4 271 L522.1 268.7 L523.1 266.5 L524.5 264.4 L526.1 262.6 L527.8 261.2 L529.6 260.3 L531.3 259.8 L532.8 259.9 L534.1 260.5 L535.1 261.7" stroke-width="0.9"/>
<path d="M551.7 236.3L562.8 230.6L567.2 231.5L584.9 226.2L589.4 228.1L601.2 232.6L605.6 227.4L610.1 225.9L616 228.9L619.7 234.1L619 242.2L627.8 248.1L632.3 254L630.8 258.5L625.6 260.7L629.5 266L632.5 275L631 285L626.5 293L630.5 300.5L632 309L629.5 318L624 325.5L617 329.5L609 329.5L603.5 326.5L596 327.5L586.5 324.5L579 318L577.5 309.5L569 313.5L560.5 318.2L551.6 313.8L551.6 308.6C558 307 565 303.5 567.6 298C568.8 295 568.5 291 567 287.5L566.5 284.5L559.8 280.5L551.7 276.4L551.7 270.2C560 268.5 568.5 263 570 256C570.8 250.5 567 246.8 559.8 246.6L551.7 242.2Z" fill="#fff"/>
<path d="M551.7 236.3L559.8 240.7L559.8 246.6 M559.8 240.7L570.2 234.8L567.2 231.5" stroke-width="1.0"/>
<path d="M551.7 270.2L559.8 274.6L559.8 280.5 M559.8 274.6L566.5 270.5" stroke-width="1.0"/>
<path d="M551.6 308.6L560.5 312.6L560.5 318.2" stroke-width="1.0"/>
<path d="M570.2 234.8C577 235.5 581 241 580.6 250C580 259 573 270 563.5 277.5" stroke-width="1.0"/>
<path d="M578.3 236.5L589 241.8L594 240.5 M594.5 253.5C588.5 257 583 264.5 580 272C578.5 277 578 281 578 284.5" stroke-width="1.0"/>
<path d="M567 287.5L573.5 283L579.5 285.5" stroke-width="1.0"/>
<path d="M578 290C578.5 298 574 308 560.5 312.6 M577.5 309.5L578.5 302" stroke-width="1.0"/>
<path d="M601.2 232.6L602 243.5L600.5 250L595.3 253.3L603.5 254.8L609.4 251.8L610.9 246.6" stroke-width="1.0"/>
<path d="M589.4 228.1L590 238L601.5 243.5" stroke-width="0.9"/>
<path d="M619 242.2L612.5 247.5L611 252 M627.8 248.1L620 253.5L616 259.5 M625.6 260.7L619.5 262" stroke-width="1.0"/>
<ellipse cx="614.6" cy="238.5" rx="6" ry="3.6" transform="rotate(-60.5 614.6 238.5)" fill="#fff" stroke-width="1.0"/>
<ellipse cx="614.8" cy="238.7" rx="3.6" ry="2.2" transform="rotate(-60.5 614.8 238.7)" stroke-width="1.3"/>
<ellipse cx="590.5" cy="296.5" rx="7.6" ry="4.7" transform="rotate(-60.5 590.5 296.5)" fill="#fff" stroke-width="1.0"/>
<ellipse cx="590.8" cy="296.8" rx="4.8" ry="3" transform="rotate(-60.5 590.8 296.8)" stroke-width="1.0"/>
<path d="M584.5 303.5L592.5 306.5L594.5 303 M586.5 307L586 318 M590 309.5L589.5 319.5" stroke-width="0.9"/>
<ellipse cx="613.6" cy="276.9" rx="17" ry="11.2" transform="rotate(-60.5 613.6 276.9)" fill="#fff" stroke-width="1.0"/>
<ellipse cx="615.2" cy="277.8" rx="17" ry="11.2" transform="rotate(-60.5 615.2 277.8)" fill="#fff" stroke-width="1.3"/>
<path d="M624.1 268.2 L624.9 269.7 L625.4 271.6 L625.5 273.6 L625.3 275.7 L624.8 277.9 L618.8 277.9 L618.6 274.2Z" stroke-width="1.5"/>
<path d="M624.5 269.5 L625.2 270.9 L625.6 272.6 L625.7 274.5 L625.6 276.5 L625.1 278.5" stroke-width="1.3"/>
<path d="M620.3 286 L618.6 287.5 L616.9 288.8 L615.1 289.7 L613.3 290.3 L611.5 290.4 L613.8 282.5 L617.1 280.9Z" stroke-width="1.5"/>
<path d="M620.9 286 L619.4 287.4 L617.8 288.6 L616.1 289.4 L614.4 289.9 L612.8 290.1" stroke-width="1.3"/>
<path d="M606.3 287.4 L605.5 285.9 L605 284 L604.9 282 L605.1 279.9 L605.6 277.7 L611.6 277.7 L611.8 281.4Z" stroke-width="1.5"/>
<path d="M607.9 287.3 L607.2 285.9 L606.8 284.2 L606.7 282.3 L606.8 280.3 L607.3 278.3" stroke-width="1.3"/>
<path d="M610.1 269.6 L611.8 268.1 L613.5 266.8 L615.3 265.9 L617.1 265.3 L618.9 265.2 L616.6 273.1 L613.3 274.7Z" stroke-width="1.5"/>
<path d="M611.5 270.8 L613 269.4 L614.6 268.2 L616.3 267.4 L618 266.9 L619.6 266.7" stroke-width="1.3"/>
<ellipse cx="612.7" cy="313.7" rx="17" ry="11.2" transform="rotate(-60.5 612.7 313.7)" fill="#fff" stroke-width="1.0"/>
<ellipse cx="614.3" cy="314.6" rx="17" ry="11.2" transform="rotate(-60.5 614.3 314.6)" fill="#fff" stroke-width="1.3"/>
<path d="M623.2 305 L624 306.5 L624.5 308.4 L624.6 310.4 L624.4 312.5 L623.9 314.7 L617.9 314.7 L617.7 311Z" stroke-width="1.5"/>
<path d="M623.6 306.3 L624.3 307.7 L624.7 309.4 L624.8 311.3 L624.7 313.3 L624.2 315.3" stroke-width="1.3"/>
<path d="M619.4 322.8 L617.7 324.3 L616 325.6 L614.2 326.5 L612.4 327.1 L610.6 327.2 L612.9 319.3 L616.2 317.7Z" stroke-width="1.5"/>
<path d="M620 322.8 L618.5 324.2 L616.9 325.4 L615.2 326.2 L613.5 326.7 L611.9 326.9" stroke-width="1.3"/>
<path d="M605.4 324.2 L604.6 322.7 L604.1 320.8 L604 318.8 L604.2 316.7 L604.7 314.5 L610.7 314.5 L610.9 318.2Z" stroke-width="1.5"/>
<path d="M607 324.1 L606.3 322.7 L605.9 321 L605.8 319.1 L605.9 317.1 L606.4 315.1" stroke-width="1.3"/>
<path d="M609.2 306.4 L610.9 304.9 L612.6 303.6 L614.4 302.7 L616.2 302.1 L618 302 L615.7 309.9 L612.4 311.5Z" stroke-width="1.5"/>
<path d="M610.6 307.6 L612.1 306.2 L613.7 305 L615.4 304.2 L617.1 303.7 L618.7 303.5" stroke-width="1.3"/>
<path d="M600.8 286.5C604.5 290.5 605.5 294.5 603 299.5 M627.5 289L631 293.5L629.5 299" stroke-width="1.0"/>
<path d="M673.7 208.2C672.8 204.8 674.6 202.2 677.5 201.7C680.4 201.3 682.4 203.6 682 206.5C681.8 208 681 209.2 680 210C681.2 214.6 678 218.8 672.8 220.6C668.5 222 663.8 222.4 661.4 220.7C659.3 219.2 658.6 216.3 659.4 213.8C661.4 216 664 216.6 667 215.8C671 214.7 673.6 212.2 673.7 208.2Z" fill="#fff" stroke-width="1.1"/>
<path d="M676.4 205.2C675.6 209.6 672.4 214.6 668.4 217.2C665.8 218.6 663.4 218.8 661.6 218.1 M678.8 207C678.4 211 676.4 215.2 672.8 218" stroke-width="0.9"/>
<path d="M639.6 238.2L643.8 241.2L647.2 238.6L650 239.2L653.6 236.2L652.2 233.4L656.2 230.4C658 228.4 657 226 654.6 225.8C652.8 225.8 651.6 226.6 650.4 227.6L647.8 230.2L645.6 229.4L642 232.2L642.8 235Z" fill="#fff" stroke-width="1.0"/>
<path d="M641.2 236.8L644.4 239.4 M642.6 235.4L645.8 238 M644.2 234.2L647.2 236.8 M645.6 229.4L650 239.2 M647.8 230.2L652.2 233.4 M650.4 227.6L654.6 230.8 M646.6 231.6L649.6 236.6 M644.6 231L648 237.6" stroke-width="1.2"/>
<path d="M655.4 278.8 L690.2 298.6 L691.7 298 L693.9 299.2 L694.3 300.5 L697.3 302.2 L697.4 304.1 L696.6 305.5 L694.9 306.4 L691.9 304.7 L690.6 304.9 L688.4 303.7 L688.2 302.1 L653.4 282.3 L653.7 280.2Z" fill="#fff" stroke-width="1.0"/>
<path d="M656.9 279.7 L655.3 283.3" stroke-width="0.8"/>
<path d="M693.9 299.2 L690.6 304.9" stroke-width="0.8"/>
<path d="M691.7 298 L688.4 303.7" stroke-width="0.8"/>
<path d="M650.4 318.8 L686.5 338.2 L688 337.5 L690.2 338.7 L690.7 340 L693.8 341.6 L693.9 343.5 L693.1 344.9 L691.5 345.8 L688.4 344.2 L687.1 344.5 L684.9 343.3 L684.6 341.7 L648.5 322.3 L648.7 320.2Z" fill="#fff" stroke-width="1.0"/>
<path d="M651.9 319.6 L650.3 323.3" stroke-width="0.8"/>
<path d="M690.2 338.7 L687.1 344.5" stroke-width="0.8"/>
<path d="M688 337.5 L684.9 343.3" stroke-width="0.8"/>
<path d="M755.6 318.4 L737.1 308.5 L735.6 309.1 L734.4 311.3 L734.7 312.9 L753.2 322.8" fill="#fff" stroke-width="1.0"/>
<path d="M755.1 317.2 L767.4 323.8 L764.3 329.6 L752 323Z" fill="#fff" stroke-width="1.0"/>
<path d="M755.8 317.6 L753.4 323.8" stroke-width="1.0"/>
<path d="M757.3 318.4 L754.9 324.6" stroke-width="1.0"/>
<path d="M758.8 319.2 L756.4 325.4" stroke-width="1.0"/>
<path d="M760.3 320 L757.9 326.2" stroke-width="1.0"/>
<path d="M761.8 320.8 L759.4 327" stroke-width="1.0"/>
<path d="M763.3 321.6 L760.9 327.8" stroke-width="1.0"/>
<path d="M764.8 322.4 L762.4 328.6" stroke-width="1.0"/>
<path d="M766.3 323.2 L763.9 329.4" stroke-width="1.0"/>
<path d="M769 320.9 L770.7 321.8 L764.5 333.5 L762.8 332.5Z" fill="#fff" stroke-width="1.0"/>
<path d="M770.5 322.4 L780.2 327.5 L781.1 330.1 L777.1 337.5 L774.5 338.1 L764.8 332.9Z" fill="#fff" stroke-width="1.1"/>
<path d="M768.7 325.7 L779.2 331.4" stroke-width="0.9"/>
<path d="M766.5 329.8 L777.1 335.4" stroke-width="0.9"/>
<path d="M732.2 378.9 L708.7 364.8 L707.5 365.2 L706.1 367.6 L706.2 368.9 L729.8 383.1" fill="#fff"/>
<path d="M709.1 365 L707.4 369.5" stroke-width="0.9"/>
<path d="M710.5 365.8 L708.8 370.4" stroke-width="0.9"/>
<path d="M712 366.7 L710.3 371.3" stroke-width="0.9"/>
<path d="M713.4 367.6 L711.7 372.2" stroke-width="0.9"/>
<path d="M714.9 368.5 L713.2 373.1" stroke-width="0.9"/>
<path d="M716.3 369.4 L714.6 373.9" stroke-width="0.9"/>
<path d="M717.8 370.2 L716.1 374.8" stroke-width="0.9"/>
<path d="M719.3 371.1 L717.5 375.7" stroke-width="0.9"/>
<path d="M733.5 375.3 L735.2 376.4 L728.9 386.9 L727.2 385.8Z" fill="#fff"/>
<path d="M734.6 377.4 L739.9 380.6 L739.6 383 L736.8 387.6 L734.8 389 L729.5 385.8Z" fill="#fff"/>
<path d="M732.9 380.2 L738.2 383.4" stroke-width="0.9"/>
<path d="M731.1 383.1 L736.5 386.3" stroke-width="0.9"/>
<path d="M425.1 334.4L431.5 323.6L439 318.9L445.5 325.8L451.9 326.8L455.2 333.3L452 340L447 352L450 372L447.5 388L448.3 396.7L444.4 397.8L431.5 395.6L424.6 391.3L423.3 383.8L426.8 366.6L424 351.6Z" fill="#fff"/>
<path d="M428.6 336L433.8 327.6L440 323.6L445 329.4L450.6 330.2 M428.6 336L427.6 351.4L430.4 366.4L427.2 382.6L428.2 389.4L434 392.8L445 394.8 M431.5 323.6L433.8 327.6 M439 318.9L440 323.6" stroke-width="0.9"/>
<path d="M432 337.5L436.2 330.6L440.8 327.4L444.6 332 M432 337.5L431 351.4L433.8 366.4L430.8 381.6L431.6 387.6L436 390.4L445 392" stroke-width="0.9"/>
<path d="M434.5 369.5L440.5 372.5L444.5 370" stroke-width="0.8"/>
<path d="M445.5 347.3L451.9 336.5L469.1 333.9L472.4 340.4L478.8 342.5L481 347.3L476.7 350.5L474.5 358L473.4 370.9L476.7 379.5L483.1 383.8L482 391.3L474.5 397.8L473.6 406.5L466 408.4L451.5 406L448 402.5L446.6 394.6L448.7 386L450.9 370.9L447.6 358Z" fill="#fff"/>
<path d="M448.8 348.2L454 339.2L468 337 M448.8 348.2L450.8 358L454 371L451.8 386L449.8 394.4L451.2 401.6 M451.9 336.5L454 339.2" stroke-width="0.9"/>
<ellipse cx="459.9" cy="349.4" rx="5.2" ry="3.4" transform="rotate(-60.5 459.9 349.4)" stroke-width="1.1"/>
<path d="M458.4 353.6 L458 353.3 L457.7 352.9 L457.5 352.4 L457.3 351.8 L457.3 351.1 L457.3 350.4 L457.5 349.7 L457.8 349 L458.1 348.3 L458.5 347.7 L459 347.1 L459.6 346.6 L460.1 346.2 L460.7 345.9 L461.3 345.7 L461.9 345.7" stroke-width="0.8"/>
<ellipse cx="464.2" cy="364.4" rx="5.2" ry="3.4" transform="rotate(-60.5 464.2 364.4)" stroke-width="1.1"/>
<path d="M462.7 368.6 L462.3 368.3 L462 367.9 L461.8 367.4 L461.6 366.8 L461.6 366.1 L461.6 365.4 L461.8 364.7 L462.1 364 L462.4 363.3 L462.8 362.7 L463.3 362.1 L463.9 361.6 L464.4 361.2 L465 360.9 L465.6 360.7 L466.2 360.7" stroke-width="0.8"/>
<ellipse cx="463.3" cy="379.8" rx="5.2" ry="3.4" transform="rotate(-60.5 463.3 379.8)" stroke-width="1.1"/>
<path d="M461.8 384 L461.4 383.7 L461.1 383.3 L460.9 382.8 L460.7 382.2 L460.7 381.5 L460.7 380.8 L460.9 380.1 L461.2 379.4 L461.5 378.7 L461.9 378.1 L462.4 377.5 L463 377 L463.5 376.6 L464.1 376.3 L464.7 376.1 L465.3 376.1" stroke-width="0.8"/>
<ellipse cx="462.7" cy="395.8" rx="5.2" ry="3.4" transform="rotate(-60.5 462.7 395.8)" stroke-width="1.1"/>
<path d="M461.2 400 L460.8 399.7 L460.5 399.3 L460.3 398.8 L460.1 398.2 L460.1 397.5 L460.1 396.8 L460.3 396.1 L460.6 395.4 L460.9 394.7 L461.3 394.1 L461.8 393.5 L462.4 393 L462.9 392.6 L463.5 392.3 L464.1 392.1 L464.7 392.1" stroke-width="0.8"/>
<ellipse cx="478.6" cy="347.2" rx="1.5" ry="1" transform="rotate(-60.5 478.6 347.2)" stroke-width="0.8"/>
<ellipse cx="479.4" cy="388.6" rx="1.5" ry="1" transform="rotate(-60.5 479.4 388.6)" stroke-width="0.8"/>
<path d="M502.9 292.6L506.8 293L508.7 297.4L525.9 305.1L523 311.8L521.1 327L523 332.8L518.2 340.4L514.4 342.3L520.1 348.1L518.2 353.8L501 345.2L493.4 342.3L494.3 337.6L498.2 332.8L495.3 321.3L491.5 320.4L491.8 315.6L496.2 314.6Z" fill="#fff" stroke-width="1.0"/>
<path d="M504 296L505.5 304L502 315.5L503.5 331.5L498.2 332.8 M508.7 297.4L506.8 305.5L513 308L517.8 302 M506.8 305.5L503.8 316.5L508.6 321L513.8 315L513 308 M508.6 321L507 331L511.4 336.6L516 330.4L516.6 320L521.5 312.5 M498.2 339.5L516.4 347.5 M511.4 336.6L514.4 342.3 M494.3 337.6L501.8 340.4" stroke-width="0.9"/>
<path d="M518.6 322L524 323.4 M518.4 324.6L523.8 326 M518.4 327.2L523.6 328.6 M518.6 329.8L523.4 331.2 M519 332.4L522.8 333.6 M517.6 320L517.6 335" stroke-width="0.9"/>
<path d="M2.3 410.2L5.7 399.1L9.2 401.2L24.6 392.2L28.5 401.2L12.5 409.8L13.9 413.9Z" fill="#0a0a0a" stroke-width="0.6"/>
<text x="0" y="0" transform="translate(28.5 399.8) rotate(-27) skewX(-8)" font-family="Liberation Sans, sans-serif" font-weight="bold" font-size="13" letter-spacing="1.3" fill="#0a0a0a" stroke="#0a0a0a" stroke-width="0.6">FR.</text>
<text x="386" y="391.6" font-family="Liberation Sans, sans-serif" font-size="5" fill="#555" stroke="none" textLength="28" lengthAdjust="spacingAndGlyphs">Copyright</text>
<text x="316" y="398.8" font-family="Liberation Sans, sans-serif" font-size="4.8" fill="#555" stroke="none" textLength="150" lengthAdjust="spacingAndGlyphs">Page design (c) 2004 - 2014 by ARI Network Services, Inc.</text>
</g>
<g style="filter:grayscale(1) blur(0.3px)" fill="#0a0a0a" stroke="#0a0a0a" stroke-width="0.45" text-anchor="middle" font-family="Liberation Sans, sans-serif">
<text x="99.5" y="34.2" font-size="12.8">8</text>
<text x="130.3" y="47.1" font-size="12.8">10</text>
<text x="159.2" y="59.6" font-size="12.8">30</text>
<text x="189.2" y="76.2" font-size="12.8">20</text>
<text x="13.4" y="120.1" font-size="12.8">34</text>
<text x="45" y="142" font-size="12.8">18</text>
<text x="68" y="155.2" font-size="12.8">31</text>
<text x="117.2" y="175.3" font-size="12.8">31</text>
<text x="138.5" y="190.8" font-size="12.8">18</text>
<text x="160" y="200.9" font-size="12.8">28</text>
<text x="209" y="167.6" font-size="12.8">9</text>
<text x="54.3" y="216.2" font-size="12.8">29</text>
<text x="123.5" y="281.6" font-size="12.8">17</text>
<text x="145.7" y="288.2" font-size="12.8">26</text>
<text x="243" y="14.2" font-size="12.8">25</text>
<text x="254.2" y="35.2" font-size="12.8">32</text>
<text x="358.5" y="46.1" font-size="12.8">32</text>
<text x="378.8" y="53.2" font-size="12.8">25</text>
<text x="372.3" y="100.2" font-size="12.8">21</text>
<text x="367.8" y="116.2" font-size="12.8">16</text>
<text x="398.7" y="124.2" font-size="12.8">14</text>
<text x="431.2" y="106.1" font-size="12.8">24</text>
<text x="457.3" y="121.2" font-size="12.8">33</text>
<text x="477" y="129.2" font-size="12.8">1</text>
<text x="467.5" y="162.1" font-size="12.8">4</text>
<text x="487" y="168.6" font-size="12.8">5</text>
<text x="358" y="156.9" font-size="12.8">22</text>
<text x="375" y="151.3" font-size="12.8">15</text>
<text x="523.2" y="186.3" font-size="12.8">3</text>
<text x="309.6" y="240.2" font-size="12.8">20</text>
<text x="340.2" y="258.3" font-size="12.8">30</text>
<text x="368.8" y="278.8" font-size="12.8">10</text>
<text x="424.4" y="240.8" font-size="12.8">22</text>
<text x="446.6" y="265.6" font-size="12.8">4</text>
<text x="469.5" y="272" font-size="12.8">5</text>
<text x="457.7" y="297.8" font-size="12.8">1</text>
<text x="429.5" y="307.6" font-size="12.8">2</text>
<text x="468.8" y="321.6" font-size="12.8">2</text>
<text x="533.6" y="304.2" font-size="12.8">3</text>
<text x="506" y="381.2" font-size="12.8">13</text>
<text x="586" y="211" font-size="12.8">12</text>
<text x="588.7" y="114" font-size="12.8">11</text>
<text x="692" y="222.9" font-size="12.8">7</text>
<text x="673.5" y="241.4" font-size="12.8">6</text>
<text x="677" y="271.6" font-size="12.8">23</text>
<text x="670" y="367.3" font-size="12.8">23</text>
<text x="773.3" y="305.6" font-size="12.8">19</text>
<text x="736.6" y="359.1" font-size="12.8">27</text>
</g>
<g opacity="0.5">
<g fill="#ee3a30">
<path fill-rule="evenodd" d="M610.2 162.2 L507.5 340 L561.8 340 L573.4 320 L543.3 320 L610.2 204.2 L622.1 224.9 L634.2 203.9Z"/>
<path fill-rule="evenodd" d="M652.3 162.2 L549.6 340 L755 340ZM652.3 204.2 L585.4 320 L719.2 320Z"/>
<path fill-rule="evenodd" d="M649.3 237.4 L686.2 301.3 L590.2 301.3 L602 281 L652.9 281 L638.6 256.3Z"/>
</g>
<g font-family="Liberation Sans, sans-serif" font-weight="bold" font-size="32" stroke-width="1.7" stroke-linejoin="round">
<text x="471.6" y="366.6" textLength="114" lengthAdjust="spacingAndGlyphs" fill="#f59b05" stroke="#f59b05">AUTO</text>
<text x="588" y="366.6" textLength="119" lengthAdjust="spacingAndGlyphs" fill="#ee3a30" stroke="#ee3a30">MOTO</text>
<text x="709.3" y="366.6" textLength="81.6" lengthAdjust="spacingAndGlyphs" fill="#151515" stroke="#151515">HUB</text>
</g>
</g>
</svg>
</body></html>
